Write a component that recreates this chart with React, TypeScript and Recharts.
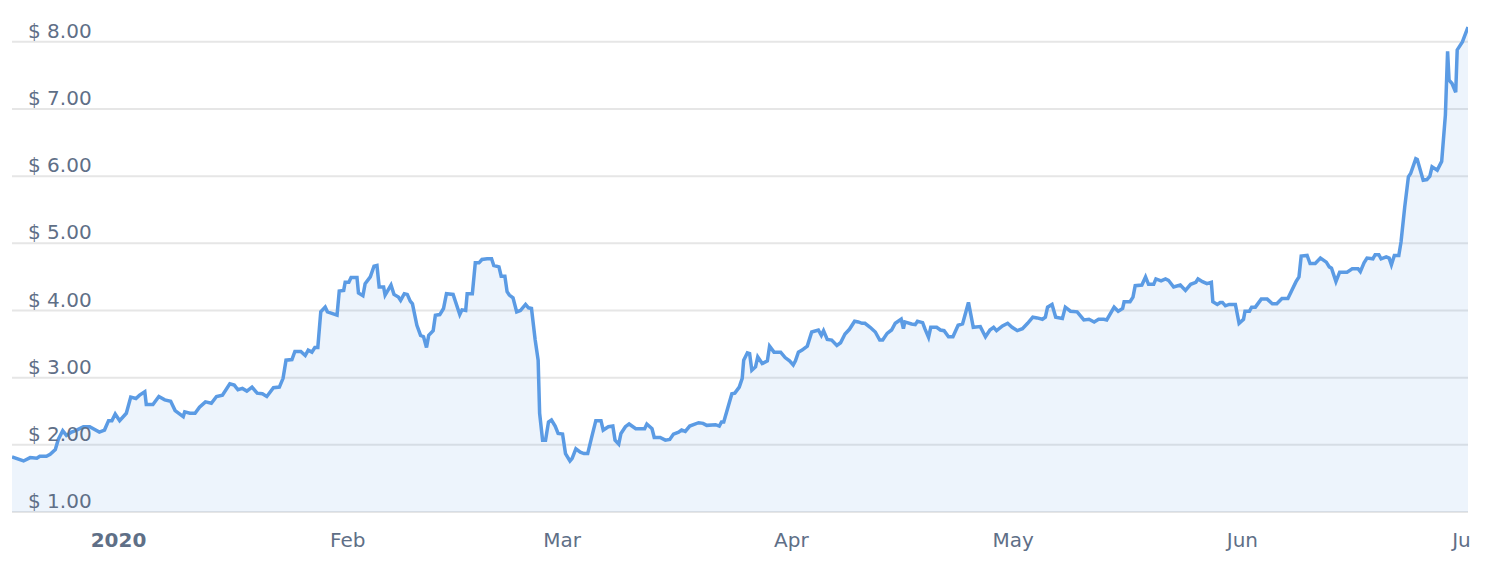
import React from "react";
import { AreaChart, Area, XAxis, YAxis, CartesianGrid } from "recharts";

// days since 2020-01-01 (fractional)
const days = [
  -14.41, -12.85, -11.95, -11.05, -10.65, -9.75, -9.25, -8.55, -8.15, -7.55,
  -7.05, -6.35, -5.65, -4.75, -3.9, -2.6, -1.9, -1.35, -0.9, -0.45,
  0.15, 1.05, 1.65, 2.35, 2.85, 3.55, 3.75, 4.65, 5.45, 6.25,
  7.05, 7.65, 8.75, 8.95, 9.65, 10.35, 10.95, 11.75, 12.55, 13.25,
  14.05, 15.05, 15.65, 16.15, 16.75, 17.35, 18.05, 18.75, 19.45, 20.05,
  20.95, 21.75, 22.25, 22.65, 23.45, 23.85, 24.65, 25.25, 25.65, 26.15,
  26.55, 26.95, 27.35, 27.95, 28.25, 29.55, 29.85, 30.45, 30.65, 31.15,
  31.45, 32.25, 32.45, 33.05, 33.35, 34.05, 34.55, 34.95, 35.25, 35.85,
  36.05, 36.85, 37.25, 37.85, 38.15, 38.65, 39.05, 39.45, 39.75, 40.35,
  40.85, 41.25, 41.65, 41.95, 42.55, 42.85, 43.45, 43.95, 44.35, 45.25,
  46.15, 46.45, 46.95, 47.15, 47.85, 48.25, 48.75, 49.15, 49.85, 50.45,
  50.75, 51.45, 51.75, 52.25, 52.55, 52.85, 53.35, 53.85, 54.35, 55.05,
  55.45, 55.85, 56.35, 56.75, 56.95, 57.35, 57.75, 58.15, 58.55, 59.05,
  59.45, 60.05, 60.45, 61.05, 61.35, 61.85, 62.45, 62.95, 63.45, 64.05,
  64.55, 65.25, 65.55, 66.25, 66.85, 67.15, 67.65, 67.95, 68.55, 69.05,
  69.95, 71.15, 71.45, 72.15, 72.45, 73.25, 73.95, 74.55, 75.05, 75.75,
  76.15, 76.65, 77.25, 78.45, 79.05, 79.55, 80.75, 81.25, 81.55, 81.85,
  82.95, 83.35, 83.95, 84.35, 84.55, 85.05, 85.35, 85.65, 86.15, 86.45,
  87.05, 87.75, 88.05, 88.65, 89.55, 90.15, 90.75, 91.25, 91.55, 91.95,
  92.45, 93.15, 93.75, 94.65, 95.05, 95.35, 95.85, 96.45, 97.15, 97.65,
  98.25, 98.85, 99.55, 100.05, 100.55, 100.95, 101.65, 102.35, 102.95, 103.35,
  103.95, 104.55, 105.05, 105.85, 106.15, 106.35, 107.25, 107.75, 108.05, 108.75,
  109.05, 109.55, 109.85, 110.65, 111.15, 111.65, 112.25, 112.85, 113.55, 114.15,
  114.95, 115.6, 116.55, 117.25, 117.85, 118.35, 118.75, 119.55, 120.25, 120.85,
  121.55, 122.25, 122.95, 123.65, 124.25, 124.95, 125.35, 125.65, 126.25, 126.75,
  127.65, 128.05, 128.75, 129.65, 130.55, 131.25, 131.95, 132.55, 133.25, 133.65,
  134.65, 135.2, 135.8, 136.0, 136.8, 137.2, 137.5, 138.4, 138.9, 139.3,
  140.0, 140.3, 141.0, 141.6, 142.0, 142.7, 143.6, 144.3, 145.0, 145.7,
  146.0, 146.6, 147.2, 147.8, 148.0, 148.6, 149.0, 149.3, 149.7, 150.2,
  151.05, 151.55, 152.15, 152.35, 152.95, 153.25, 153.75, 154.55, 155.35, 156.05,
  156.65, 157.35, 158.15, 159.25, 159.65, 159.95, 160.75, 161.15, 161.85, 162.55,
  163.35, 163.75, 164.05, 164.65, 165.15, 166.15, 166.85, 167.65, 167.95, 168.45,
  168.85, 169.65, 169.95, 170.45, 170.75, 171.45, 171.85, 172.15, 172.55, 173.15,
  173.45, 173.95, 174.45, 174.75, 175.45, 175.65, 176.45, 176.95, 177.35, 177.65,
  178.35, 178.95, 179.45, 179.75, 179.95, 180.35, 180.85, 181.05, 181.75, 182.51,
];

const prices = [
  1.82, 1.76, 1.81, 1.80, 1.83, 1.83, 1.86, 1.93, 2.08, 2.21,
  2.14, 2.19, 2.22, 2.27, 2.27, 2.19, 2.22, 2.36, 2.36, 2.46,
  2.36, 2.47, 2.71, 2.69, 2.74, 2.79, 2.60, 2.60, 2.72, 2.67,
  2.65, 2.51, 2.42, 2.49, 2.47, 2.47, 2.56, 2.64, 2.62, 2.72,
  2.74, 2.91, 2.89, 2.82, 2.84, 2.80, 2.86, 2.77, 2.76, 2.72,
  2.85, 2.86, 2.99, 3.26, 3.27, 3.39, 3.39, 3.33, 3.41, 3.38,
  3.45, 3.45, 3.98, 4.05, 3.98, 3.93, 4.29, 4.30, 4.42, 4.42,
  4.49, 4.49, 4.26, 4.22, 4.40, 4.50, 4.66, 4.67, 4.35, 4.35,
  4.23, 4.38, 4.24, 4.20, 4.15, 4.25, 4.24, 4.14, 4.10, 3.78,
  3.63, 3.61, 3.45, 3.63, 3.70, 3.93, 3.94, 4.03, 4.25, 4.24,
  3.94, 4.01, 4.00, 4.25, 4.25, 4.71, 4.71, 4.76, 4.77, 4.77,
  4.67, 4.65, 4.51, 4.51, 4.28, 4.23, 4.19, 3.98, 4.00, 4.09,
  4.04, 4.03, 3.56, 3.26, 2.47, 2.07, 2.07, 2.34, 2.37, 2.28,
  2.17, 2.16, 1.87, 1.76, 1.80, 1.94, 1.89, 1.87, 1.87, 2.14,
  2.36, 2.36, 2.22, 2.27, 2.28, 2.07, 2.01, 2.17, 2.27, 2.31,
  2.24, 2.24, 2.31, 2.24, 2.11, 2.11, 2.07, 2.08, 2.16, 2.19,
  2.22, 2.20, 2.28, 2.33, 2.32, 2.29, 2.30, 2.28, 2.34, 2.34,
  2.76, 2.77, 2.86, 2.99, 3.26, 3.37, 3.36, 3.11, 3.16, 3.31,
  3.21, 3.25, 3.47, 3.38, 3.38, 3.30, 3.25, 3.19, 3.25, 3.38,
  3.41, 3.47, 3.68, 3.71, 3.63, 3.70, 3.57, 3.56, 3.48, 3.52,
  3.65, 3.72, 3.84, 3.83, 3.81, 3.81, 3.75, 3.68, 3.56, 3.56,
  3.66, 3.71, 3.81, 3.87, 3.73, 3.83, 3.80, 3.79, 3.84, 3.82,
  3.73, 3.60, 3.75, 3.75, 3.71, 3.70, 3.61, 3.61, 3.78, 3.80,
  4.12, 3.75, 3.76, 3.61, 3.71, 3.75, 3.70, 3.77, 3.81, 3.75,
  3.70, 3.73, 3.81, 3.90, 3.89, 3.87, 3.90, 4.05, 4.09, 3.90,
  3.88, 4.05, 3.99, 3.98, 3.86, 3.87, 3.83, 3.87, 3.87, 3.86,
  4.05, 3.99, 4.03, 4.13, 4.13, 4.20, 4.37, 4.38, 4.50, 4.39,
  4.39, 4.47, 4.44, 4.47, 4.45, 4.35, 4.38, 4.30, 4.39, 4.42,
  4.47, 4.43, 4.40, 4.42, 4.13, 4.09, 4.12, 4.12, 4.07, 4.09,
  4.09, 3.81, 3.87, 3.99, 3.99, 4.05, 4.05, 4.17, 4.17, 4.10,
  4.10, 4.18, 4.18, 4.43, 4.50, 4.81, 4.82, 4.70, 4.70, 4.78,
  4.72, 4.65, 4.63, 4.43, 4.57, 4.57, 4.62, 4.62, 4.58, 4.71,
  4.78, 4.77, 4.83, 4.83, 4.77, 4.80, 4.78, 4.68, 4.82, 4.82,
  5.02, 5.54, 5.99, 6.04, 6.26, 6.25, 5.94, 5.95, 6.00, 6.14,
  6.09, 6.22, 6.91, 7.86, 7.43, 7.38, 7.25, 7.88, 8.00, 8.22,
];

const monthTicks = [0, 31, 60, 91, 121, 152, 182];
const monthLabels = ["2020", "Feb", "Mar", "Apr", "May", "Jun", "Jul"];
const priceTicks = [1, 2, 3, 4, 5, 6, 7, 8];

const data = days.map((d, i) => ({ day: d, price: prices[i] }));

const TEXT_COLOR = "#5f6f87";
const FONT = "'DejaVu Sans', Verdana, sans-serif";

const XTick = (props: any) => {
  const { x, y, payload } = props;
  const idx = monthTicks.indexOf(payload.value);
  const label = idx >= 0 ? monthLabels[idx] : "";
  return (
    <text
      x={x}
      y={y + 35}
      textAnchor="middle"
      fill={TEXT_COLOR}
      fontFamily={FONT}
      fontSize={20}
      fontWeight={idx === 0 ? "bold" : "normal"}
    >
      {label}
    </text>
  );
};

const YTick = (props: any) => {
  const { x, y, payload } = props;
  return (
    <text
      x={x + 16}
      y={y - 4}
      textAnchor="start"
      fill={TEXT_COLOR}
      fontFamily={FONT}
      fontSize={20}
    >
      {"$ " + Number(payload.value).toFixed(2)}
    </text>
  );
};

export default function App() {
  return (
    <div style={{ width: 1463, height: 560, overflow: "hidden" }}>
      <AreaChart
        width={1463}
        height={560}
        data={data}
        margin={{ top: 7, right: 3, bottom: 16, left: 3 }}
      >
        <CartesianGrid
          vertical={false}
          horizontalValues={priceTicks}
          stroke="#e6e6e6"
          strokeWidth={2}
        />
        <XAxis
          dataKey="day"
          type="number"
          domain={[-14.41, 182.51]}
          ticks={monthTicks}
          interval={0}
          allowDataOverflow
          axisLine={false}
          tickLine={false}
          tickSize={0}
          tickMargin={0}
          height={40}
          tick={<XTick />}
        />
        <Area
          type="linear"
          dataKey="price"
          stroke="#5b9be4"
          strokeWidth={3.5}
          fill="#5a9be3"
          fillOpacity={0.11}
          dot={false}
          activeDot={false}
          isAnimationActive={false}
        />
        <YAxis
          type="number"
          domain={[1, 8.4]}
          ticks={priceTicks}
          interval={0}
          allowDataOverflow
          width={1}
          axisLine={false}
          tickLine={false}
          tickSize={0}
          tickMargin={0}
          tick={<YTick />}
        />
      </AreaChart>
    </div>
  );
}
